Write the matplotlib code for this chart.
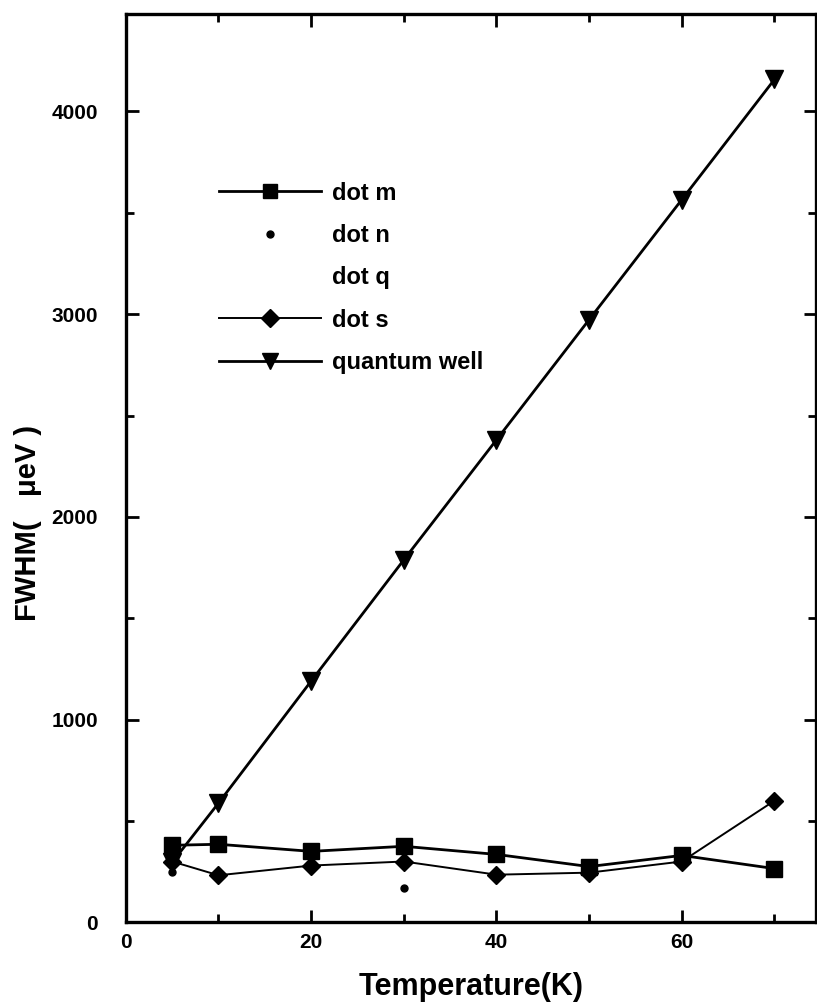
import matplotlib
matplotlib.use("Agg")
import matplotlib.pyplot as plt
from matplotlib.lines import Line2D
from matplotlib.ticker import MultipleLocator

# FWHM of the emission lines vs temperature
temps = [5, 10, 20, 30, 40, 50, 60, 70]
dot_m = [380, 385, 350, 375, 335, 275, 330, 265]
dot_s = [300, 232, 280, 300, 235, 245, 300, 600]
qwell = [296, 588, 1190, 1788, 2380, 2973, 3565, 4158]
dot_n_t = [5, 30, 70]
dot_n = [250, 170, 260]

plt.rcParams['font.family'] = ['Liberation Sans', 'DejaVu Sans']
plt.rcParams['font.weight'] = 'bold'

fig = plt.figure(figsize=(8.17, 10.08), dpi=100)
ax = fig.add_axes([0.154, 0.085, 0.845, 0.901])

ax.plot(temps, dot_m, color='black', lw=2.0, marker='s', ms=11)
ax.plot(dot_n_t, dot_n, ls='none', color='black', marker='o', ms=5)
ax.plot(temps, dot_s, color='black', lw=1.4, marker='D', ms=9)
ax.plot(temps, qwell, color='black', lw=2.0, marker='v', ms=13)

ax.set_xlim(0, 74.5)
ax.set_ylim(0, 4480)
ax.xaxis.set_major_locator(MultipleLocator(20))
ax.xaxis.set_minor_locator(MultipleLocator(10))
ax.yaxis.set_major_locator(MultipleLocator(1000))
ax.yaxis.set_minor_locator(MultipleLocator(500))
ax.tick_params(which='both', direction='in', top=True, right=True, width=2)
ax.tick_params(which='major', length=9, labelsize=15)
ax.tick_params(axis='x', which='major', pad=8)
ax.tick_params(axis='y', which='major', pad=20)
ax.tick_params(which='minor', length=6)
for s in ax.spines.values():
    s.set_linewidth(2.4)
for lab in ax.get_xticklabels() + ax.get_yticklabels():
    lab.set_fontweight('bold')

ax.set_xlabel('Temperature(K)', fontsize=22, fontweight='bold', labelpad=14)
ax.set_ylabel('FWHM(   μeV )', fontsize=21, fontweight='bold')
ax.yaxis.set_label_coords(-0.122, 0.44)

handles = [
    Line2D([], [], color='black', lw=2, marker='s', ms=10),
    Line2D([], [], ls='none', color='black', marker='o', ms=5),
    Line2D([], [], ls='none'),
    Line2D([], [], color='black', lw=1.4, marker='D', ms=9),
    Line2D([], [], color='black', lw=2, marker='v', ms=12),
]
labels = ['dot m', 'dot n', 'dot q', 'dot s', 'quantum well']
ax.legend(handles, labels, loc='upper left', bbox_to_anchor=(0.122, 0.826),
          frameon=False, handlelength=4.3, handletextpad=0.45,
          labelspacing=0.82, borderaxespad=0,
          prop={'size': 17, 'weight': 'bold'})

fig.savefig('out.png', dpi=100)
